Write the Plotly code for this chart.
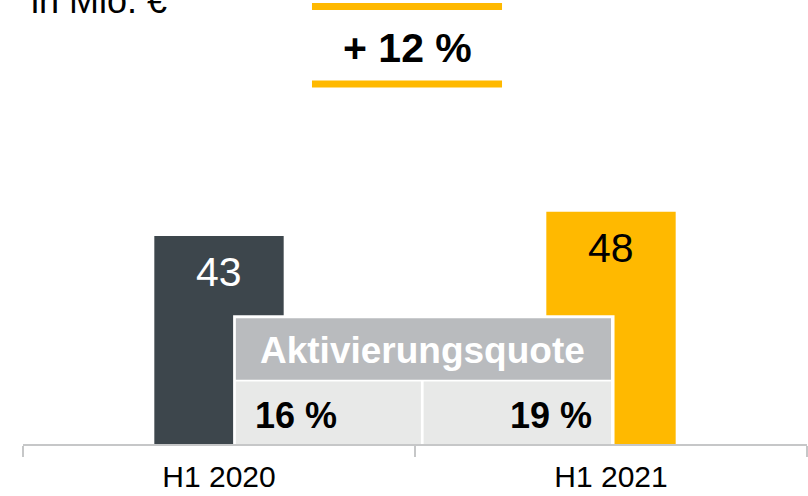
import plotly.graph_objects as go

categories = ["H1 2020", "H1 2021"]
values = [43, 48]
bar_colors = ["#3d464c", "#ffb900"]
label_colors = ["#ffffff", "#000000"]
quote_title = "Aktivierungsquote"
quotes = [16, 19]
unit_label = "in Mio. €"

FONT = "Liberation Sans, Arial, sans-serif"
YMAX = 91.8

fig = go.Figure()
fig.add_trace(go.Bar(
    x=categories, y=values, marker=dict(color=bar_colors, line=dict(width=0)),
    width=0.33, hoverinfo="skip", showlegend=False,
))

# value labels inside bars
for c, v, col in zip(categories, values, label_colors):
    fig.add_annotation(x=c, y=v, text=str(v), showarrow=False, yanchor="top",
                       yshift=-11, font=dict(family=FONT, size=41, color=col))

change = round((values[1] - values[0]) / values[0] * 100)
fig.add_annotation(xref="paper", yref="paper", x=0.49, y=0.891, text=f"<b>+ {change} %</b>",
                   showarrow=False, xanchor="center", yanchor="middle",
                   font=dict(family=FONT, size=41, color="#000000"))
for yy in (0.9854, 0.8108):
    fig.add_shape(type="line", xref="paper", yref="paper", x0=0.3686, x1=0.611, y0=yy, y1=yy,
                  line=dict(color="#ffb900", width=7))

fig.add_annotation(xref="paper", yref="paper", x=0.0, y=1.0, xshift=6, text=unit_label,
                   showarrow=False, xanchor="left", yanchor="middle",
                   font=dict(family=FONT, size=36, color="#000000"))

# table overlay
fig.add_shape(type="rect", xref="x", yref="y", x0=0.036, x1=1.009, y0=0, y1=26.6,
              fillcolor="#ffffff", line=dict(width=0), layer="above")
fig.add_shape(type="rect", xref="x", yref="y", x0=0.043, x1=1.0, y0=13.3, y1=26.0,
              fillcolor="#b9bbbe", line=dict(width=0), layer="above")
fig.add_shape(type="rect", xref="x", yref="y", x0=0.043, x1=0.515, y0=0, y1=12.9,
              fillcolor="#e8e9e8", line=dict(width=0), layer="above")
fig.add_shape(type="rect", xref="x", yref="y", x0=0.522, x1=1.0, y0=0, y1=12.9,
              fillcolor="#e8e9e8", line=dict(width=0), layer="above")
fig.add_annotation(x=0.52, y=19.4, xref="x", yref="y", text=f"<b>{quote_title}</b>",
                   showarrow=False, xanchor="center", yanchor="middle",
                   font=dict(family=FONT, size=37, color="#ffffff"))
fig.add_annotation(x=0.087, y=5.8, xref="x", yref="y", text=f"<b>{quotes[0]} %</b>",
                   showarrow=False, xanchor="left", yanchor="middle",
                   font=dict(family=FONT, size=36, color="#000000"))
fig.add_annotation(x=0.956, y=5.8, xref="x", yref="y", text=f"<b>{quotes[1]} %</b>",
                   showarrow=False, xanchor="right", yanchor="middle",
                   font=dict(family=FONT, size=36, color="#000000"))

fig.update_layout(
    width=808, height=496,
    margin=dict(l=23, r=1, t=0, b=52),
    paper_bgcolor="#ffffff", plot_bgcolor="#ffffff",
    bargap=0.67,
    xaxis=dict(type="category", categoryorder="array", categoryarray=categories,
               range=[-0.5, 1.5], showline=True, linecolor="#c6c7c8", linewidth=2,
               ticks="outside", tickson="boundaries", ticklen=11, tickwidth=2,
               tickcolor="#c6c7c8", showgrid=False, zeroline=False, ticklabelstandoff=5,
               automargin=False,
               tickfont=dict(family=FONT, size=30, color="#000000"), fixedrange=True),
    yaxis=dict(visible=False, range=[0, YMAX], fixedrange=True, automargin=False),
)

fig.write_html("out.html", config={"displayModeBar": False},
               post_script="document.body.style.margin='0px';")
